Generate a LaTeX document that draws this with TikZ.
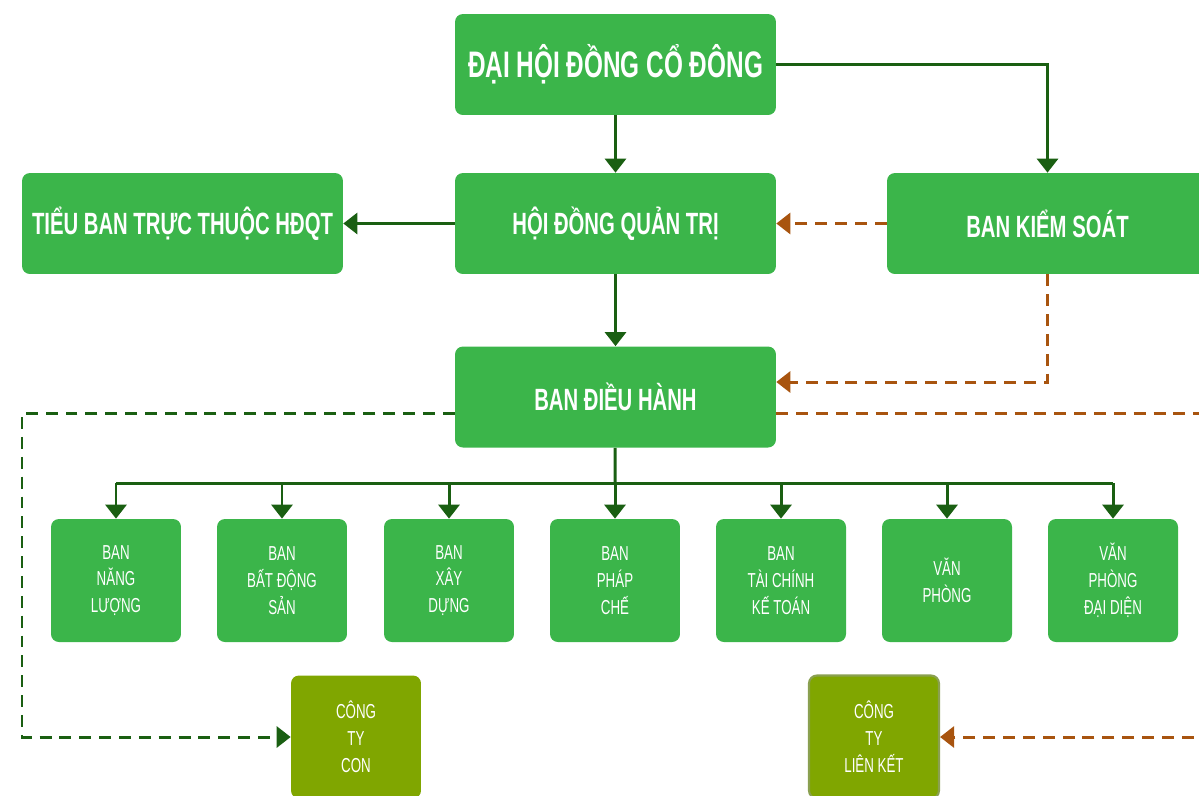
\documentclass[tikz,border=0pt]{standalone}
\usepackage{fontspec}
\setmainfont{Liberation Sans}[FakeStretch=0.66]
\usetikzlibrary{arrows.meta,calc}
\definecolor{boxgreen}{RGB}{59,181,74}
\definecolor{linegreen}{RGB}{26,95,18}
\definecolor{linebrown}{RGB}{168,84,15}
\definecolor{olivebox}{RGB}{128,166,0}
\definecolor{oliveedge}{RGB}{138,160,80}
\tikzset{every picture/.style={>={Triangle[length=8pt,width=12pt]}},
  box/.style={rectangle,rounded corners=4.5pt,fill=boxgreen,text=white,align=center,inner sep=0pt},
  bigbox/.style={box,minimum width=6.42cm,minimum height=2.02cm,font=\bfseries\fontsize{17.5}{21}\selectfont},
  unitbox/.style={box,minimum width=2.6cm,minimum height=2.46cm,font=\fontsize{11.5}{15.3}\selectfont},
  firmbox/.style={unitbox,fill=olivebox},
  link/.style={draw=linegreen,line width=1.7pt},
  check/.style={draw=linebrown,line width=1.7pt},
  dashline/.style={dash pattern=on 6.8pt off 4.5pt}}

\begin{document}
\begin{tikzpicture}[x=0.02cm,y=-0.02cm]
  \useasboundingbox (0,0) rectangle (1199,795);
  \node (dh) [bigbox,font=\bfseries\fontsize{21}{25}\selectfont] at (615.5,64.5) {ĐẠI HỘI ĐỒNG CỔ ĐÔNG};
  \node (tb) [bigbox] at (182.5,223.5) {TIỂU BAN TRỰC THUỘC HĐQT};
  \node (hd) [bigbox] at (615.5,223.5) {HỘI ĐỒNG QUẢN TRỊ};
  \node (bks) [bigbox] at (1047.5,223.5) {BAN KIỂM SOÁT};
  \node (bdh) [bigbox] at (615.5,397) {BAN ĐIỀU HÀNH};
  \node (b1) [unitbox] at (116,580.5) {BAN\\NĂNG\\LƯỢNG};
  \node (b2) [unitbox] at (282,580.5) {BAN\\BẤT ĐỘNG\\SẢN};
  \node (b3) [unitbox] at (449,580.5) {BAN\\XÂY\\DỰNG};
  \node (b4) [unitbox] at (615,580.5) {BAN\\PHÁP\\CHẾ};
  \node (b5) [unitbox] at (781,580.5) {BAN\\TÀI CHÍNH\\KẾ TOÁN};
  \node (b6) [unitbox] at (947,580.5) {VĂN\\PHÒNG};
  \node (b7) [unitbox] at (1113,580.5) {VĂN\\PHÒNG\\ĐẠI DIỆN};
  \node (ctc) [firmbox] at (356,737) {CÔNG\\TY\\CON};
  \node (ctlk) [firmbox,draw=oliveedge,line width=1.2pt] at (874,737) {CÔNG\\TY\\LIÊN KẾT};
  \coordinate (bus) at (615,483);
  \coordinate (lc) at (22,737);
  \coordinate (rc) at (1230,737);

  \draw [link,->] (dh) -- (hd);
  \draw [link,->] (dh.east) -| (bks);
  \draw [link,->] (hd) -- (tb);
  \draw [link,->] (hd) -- (bdh);
  \draw [check,dashline,->] (bks) -- (hd);
  \draw [check,dashline,->] (bks.south) |- ($(bdh.east)+(0,-15)$);
  \draw [link] (bdh) -- (bus);
  \draw [link] (b1.north |- bus) -- (b7.north |- bus);
  \foreach \b in {b1,b2,b3,b4,b5,b6,b7}
    \draw [link,->] (\b.north |- bus) -- (\b.north);
  \draw [link,dashline,->] ($(bdh.west)+(0,16)$) -| (lc) -- (ctc.west);
  \draw [check,dashline,->] ($(bdh.east)+(0,16)$) -| (rc) -- (ctlk.east);
\end{tikzpicture}
\end{document}
